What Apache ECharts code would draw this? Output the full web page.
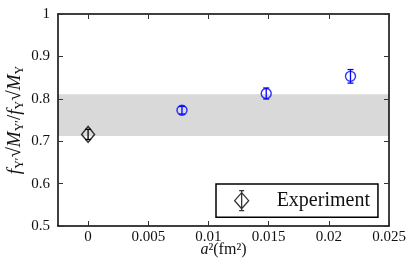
<!DOCTYPE html>
<html><head><meta charset="utf-8">
<script src="https://cdn.jsdelivr.net/npm/echarts@6/dist/echarts.min.js"></script>
<style>html,body{margin:0;padding:0;background:#fff}#c{width:416px;height:275px}</style>
</head><body><div id="c"></div>
<script>
// data
const latticeX = [0.0078, 0.0148, 0.0218];
const latticeY = [0.773, 0.8125, 0.853];
const latticeErr = [0.009, 0.013, 0.016];
const expX = [0];
const expY = [0.716];
const expErr = [0.012];
const bandLow = 0.712, bandHigh = 0.811;
const xTicks = [0, 0.005, 0.01, 0.015, 0.02, 0.025];
const yTicks = [0.5, 0.6, 0.7, 0.8, 0.9, 1];

const FONT = 'Liberation Serif';
const chart = echarts.init(document.getElementById('c'), null, {renderer: 'canvas'});

function errData(xs, ys, es) {
  return xs.map((x, i) => [x, ys[i], ys[i] - es[i], ys[i] + es[i]]);
}
function errRender(color) {
  return function (params, api) {
    const x = api.value(0);
    const lo = api.coord([x, api.value(2)]);
    const hi = api.coord([x, api.value(3)]);
    const w = 3;
    const st = {stroke: color, lineWidth: 1.3};
    return {type: 'group', children: [
      {type: 'line', shape: {x1: lo[0], y1: lo[1], x2: hi[0], y2: hi[1]}, style: st},
      {type: 'line', shape: {x1: lo[0] - w, y1: lo[1], x2: lo[0] + w, y2: lo[1]}, style: st},
      {type: 'line', shape: {x1: hi[0] - w, y1: hi[1], x2: hi[0] + w, y2: hi[1]}, style: st}
    ]};
  };
}

const axisCommon = {
  type: 'value', z: 5,
  axisLine: {show: true, onZero: false, lineStyle: {color: '#000', width: 1.5}},
  axisTick: {show: true, inside: true, length: 5, lineStyle: {color: '#333', width: 1}},
  splitLine: {show: false}
};

const option = {
  animation: false,
  backgroundColor: '#fff',
  grid: {left: 58, right: 27, top: 14, bottom: 49, containLabel: false, outerBoundsMode: 'none'},
  xAxis: [
    Object.assign({}, axisCommon, {
      position: 'bottom', min: -0.0025, max: 0.025,
      axisTick: Object.assign({}, axisCommon.axisTick, {customValues: xTicks}),
      axisLabel: {customValues: xTicks, fontFamily: FONT, fontSize: 15, color: '#111', margin: 4,
        formatter: v => String(Math.round(v * 1000) / 1000)},
      name: '{i|a}{n|²(fm²)}', nameLocation: 'middle', nameGap: 16, nameMoveOverlap: false,
      nameTextStyle: {rich: {
        i: {fontFamily: FONT, fontStyle: 'italic', fontSize: 16, color: '#111'},
        n: {fontFamily: FONT, fontSize: 16, color: '#111'}
      }}
    }),
    Object.assign({}, axisCommon, {
      position: 'top', min: -0.0025, max: 0.025,
      axisTick: Object.assign({}, axisCommon.axisTick, {customValues: xTicks}),
      axisLabel: {show: false}
    })
  ],
  yAxis: [
    Object.assign({}, axisCommon, {
      position: 'left', min: 0.5, max: 1, interval: 0.1,
      axisLabel: {fontFamily: FONT, fontSize: 15, color: '#111', margin: 8,
        formatter: v => (Math.abs(v - 1) < 1e-9 ? '1' : v.toFixed(1))},
      name: '{i|f}{s|Υ′}{n|√}{i|M}{s|Υ′}{n|/}{i|f}{s|Υ}{n|√}{i|M}{s|Υ}',
      nameLocation: 'middle', nameGap: 32, nameRotate: 90, nameMoveOverlap: false,
      nameTextStyle: {rich: {
        i: {fontFamily: FONT, fontStyle: 'italic', fontSize: 19, color: '#111', lineHeight: 22, verticalAlign: 'middle'},
        n: {fontFamily: FONT, fontSize: 19, color: '#111', lineHeight: 22, verticalAlign: 'middle'},
        s: {fontFamily: FONT, fontSize: 12, color: '#111', lineHeight: 13, verticalAlign: 'bottom'}
      }}
    }),
    Object.assign({}, axisCommon, {
      position: 'right', min: 0.5, max: 1, interval: 0.1,
      axisLabel: {show: false}
    })
  ],
  legend: {
    show: true, left: 216, top: 184,
    orient: 'horizontal',
    backgroundColor: '#fff',
    borderColor: '#000', borderWidth: 1.5, borderRadius: 0,
    padding: [6, 8, 6, 18],
    itemWidth: 14, itemHeight: 20,
    textStyle: {fontFamily: FONT, fontSize: 20, color: '#111', padding: [0, 0, 0, 23]},
    data: [{
      name: 'Experiment',
      icon: 'path://M7,2 L14,10 L7,18 L0,10 Z M7,0 L7,20 M4.5,0 L9.5,0 M4.5,20 L9.5,20',
      itemStyle: {color: 'transparent', borderColor: '#000', borderWidth: 1.3}
    }]
  },
  series: [
    {
      type: 'custom', name: 'bandHolder', xAxisIndex: 0, yAxisIndex: 0,
      data: [], renderItem: () => null, silent: true,
      markArea: {silent: true, itemStyle: {color: '#d9d9d9', opacity: 1},
        data: [[{yAxis: bandLow}, {yAxis: bandHigh}]]}
    },
    {
      type: 'custom', name: 'latErr', xAxisIndex: 0, yAxisIndex: 0, z: 3,
      data: errData(latticeX, latticeY, latticeErr), renderItem: errRender('#0000ff'),
      encode: {x: 0, y: [1, 2, 3]}
    },
    {
      type: 'scatter', name: 'Lattice', xAxisIndex: 0, yAxisIndex: 0, z: 4,
      data: latticeX.map((x, i) => [x, latticeY[i]]),
      symbol: 'circle', symbolSize: 10,
      itemStyle: {color: 'transparent', borderColor: '#0000ff', borderWidth: 1.4}
    },
    {
      type: 'custom', name: 'expErr', xAxisIndex: 0, yAxisIndex: 0, z: 3,
      data: errData(expX, expY, expErr), renderItem: errRender('#000'),
      encode: {x: 0, y: [1, 2, 3]}
    },
    {
      type: 'scatter', name: 'Experiment', xAxisIndex: 0, yAxisIndex: 0, z: 4,
      data: expX.map((x, i) => [x, expY[i]]),
      symbol: 'diamond', symbolSize: [13, 16],
      itemStyle: {color: 'transparent', borderColor: '#000', borderWidth: 1.4}
    }
  ]
};
chart.setOption(option);
</script>
</body></html>
